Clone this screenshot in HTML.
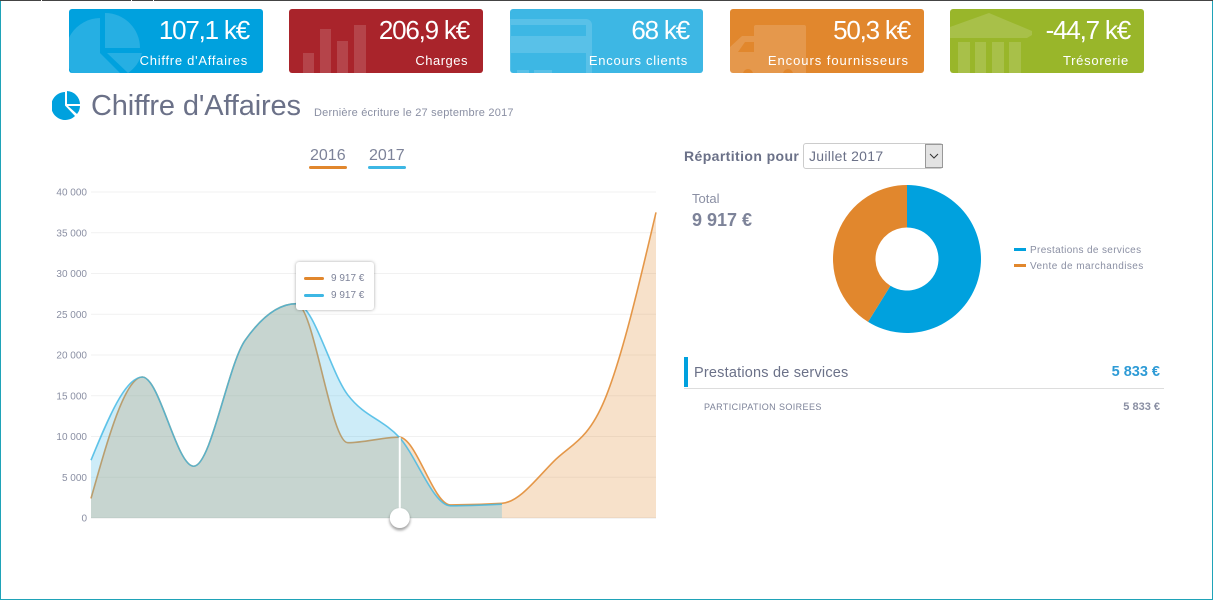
<!DOCTYPE html>
<html lang="fr">
<head>
<meta charset="utf-8">
<title>Chiffre d'Affaires</title>
<style>
html,body{margin:0;padding:0;background:#fff}
body{width:1213px;height:600px;overflow:hidden;position:relative;font-family:"Liberation Sans",sans-serif;color:#6b7188}
.abs{position:absolute;white-space:nowrap}
.card{position:absolute;top:9px;height:64px;width:194px;border-radius:3px;overflow:hidden;color:#fff}
.card svg{position:absolute;left:0;top:0}
.val{position:absolute;right:14px;top:4px;font-size:26px;line-height:34px;letter-spacing:-1.2px;white-space:nowrap}
.lab{position:absolute;right:15px;top:44px;font-size:13px;line-height:16px;letter-spacing:.73px;white-space:nowrap}
</style>
</head>
<body>
<div class="abs" style="left:0;top:0;width:1213px;height:1px;background:#444"></div>
<div class="abs" style="left:41px;top:0;width:1px;height:1px;background:#fff"></div>
<div class="abs" style="left:131px;top:0;width:1px;height:1px;background:#fff"></div>
<div class="abs" style="left:153px;top:0;width:1px;height:1px;background:#fff"></div>
<div class="abs" style="left:0;top:1px;width:1px;height:599px;background:#1fa3b8"></div>
<div class="abs" style="left:1212px;top:1px;width:1px;height:599px;background:#1fa3b8"></div>
<div class="abs" style="left:0;top:599px;width:1213px;height:1px;background:#1fa3b8"></div>

<div class="card" style="left:69px;background:#00a1de">
<svg width="194" height="64"><g fill="#fff" fill-opacity=".15"><path d="M31 44V9A35 35 0 1 0 56 69Z"/><path d="M36 4A35 35 0 0 1 71 39H36Z"/><path d="M38 44H73A35 35 0 0 1 59 64Z"/></g></svg>
<div class="val">107,1 k€</div>
<div class="lab">Chiffre d'Affaires</div>
</div>
<div class="card" style="left:289px;background:#a9242b">
<svg width="194" height="64"><g fill="#fff" fill-opacity=".15"><rect x="14" y="44" width="11" height="20"/><rect x="31" y="20" width="11" height="44"/><rect x="48" y="32" width="11" height="32"/><rect x="65" y="16" width="12" height="48"/></g></svg>
<div class="val">206,9 k€</div>
<div class="lab" style="letter-spacing:.5px">Charges</div>
</div>
<div class="card" style="left:510px;width:193px;background:#3db7e4">
<svg width="193" height="64"><path fill="#fff" fill-opacity=".15" fill-rule="evenodd" d="M0 10H76A6 6 0 0 1 82 16V64H0ZM1 16V27H76V16ZM1 44V64H76V44Z"/><g fill="#fff" fill-opacity=".15"><rect x="7" y="61" width="12" height="3"/><rect x="24" y="61" width="18" height="3"/></g></svg>
<div class="val">68 k€</div>
<div class="lab">Encours clients</div>
</div>
<div class="card" style="left:730px;background:#e1872d">
<svg width="194" height="64"><path fill="#fff" fill-opacity=".15" fill-rule="evenodd" d="M26 16H74A2 2 0 0 1 76 18V64H0V38L12 27H24V18A2 2 0 0 1 26 16ZM8 43H24V33H15Z"/><circle cx="18" cy="65" r="5" fill="#e1872d"/><circle cx="58" cy="65" r="5" fill="#e1872d"/></svg>
<div class="val">50,3 k€</div>
<div class="lab" style="letter-spacing:.95px">Encours fournisseurs</div>
</div>
<div class="card" style="left:950px;background:#99b62a">
<svg width="194" height="64"><g fill="#fff" fill-opacity=".15"><path d="M0 18L39 4L82 22V26L77 29H0Z"/><rect x="8" y="33" width="12" height="31"/><rect x="25" y="33" width="11" height="31"/><rect x="42" y="33" width="12" height="31"/><rect x="59" y="33" width="12" height="31"/></g></svg>
<div class="val">-44,7 k€</div>
<div class="lab">Trésorerie</div>
</div>

<svg class="abs" style="left:52px;top:90px" width="29" height="30"><path fill="#00a1de" d="M13 2V15.5L23 26A14 14 0 1 1 13 2Z"/><path fill="#00a1de" d="M15 1A13.500 13.500 0 0 1 28 14H15Z"/><path fill="#00a1de" d="M16 16H28A13 13 0 0 1 25 24Z"/></svg>
<div class="abs" style="left:91px;top:88px;font-size:29px;line-height:36px;letter-spacing:-.14px;color:#6b7188">Chiffre d'Affaires</div>
<div class="abs" style="left:314px;top:106px;font-size:11px;line-height:14px;letter-spacing:.22px;color:#8a8fa3">Dernière écriture le 27 septembre 2017</div>

<div class="abs" style="left:310px;top:147px;font-size:16px;line-height:18px;color:#7d8399">2016</div>
<div class="abs" style="left:309px;top:166px;width:38px;height:3px;border-radius:2px;background:#e1872d"></div>
<div class="abs" style="left:369px;top:147px;font-size:16px;line-height:18px;color:#7d8399">2017</div>
<div class="abs" style="left:368px;top:166px;width:38px;height:3px;border-radius:2px;background:#3db7e4"></div>

<svg id="chart" class="abs" style="left:0;top:0" width="700" height="560"></svg>

<div class="abs" style="left:296px;top:262px;width:78px;height:48px;background:#fff;border-radius:3px;box-shadow:0 0 3px rgba(0,0,0,.35)">
<div class="abs" style="left:8px;top:15px;width:20px;height:3px;border-radius:2px;background:#e1872d"></div>
<div class="abs" style="left:35px;top:10px;font-size:10px;line-height:13px;color:#7d8399">9 917 €</div>
<div class="abs" style="left:8px;top:32px;width:20px;height:3px;border-radius:2px;background:#3db7e4"></div>
<div class="abs" style="left:35px;top:27px;font-size:10px;line-height:13px;color:#7d8399">9 917 €</div>
</div>

<div class="abs" style="left:684px;top:148px;font-size:14px;line-height:17px;letter-spacing:.4px;font-weight:bold;color:#6b7188">Répartition pour</div>
<div class="abs" style="left:803px;top:143px;width:138px;height:24px;border:1px solid #ccc;border-radius:3px;background:#fff">
<div class="abs" style="left:5px;top:3px;font-size:14px;line-height:18px;letter-spacing:.3px;color:#6b7188">Juillet 2017</div>
<div class="abs" style="left:121px;top:0;width:16px;height:22px;background:#e3e3e3;border:1px solid #999">
<svg width="16" height="22"><path d="M4 9L8 13L12 9" fill="none" stroke="#333" stroke-width="1"/></svg></div>
</div>

<div class="abs" style="left:692px;top:191px;font-size:13px;line-height:16px;color:#8a8fa3">Total</div>
<div class="abs" style="left:692px;top:209px;font-size:18px;line-height:22px;font-weight:bold;color:#7d8399">9 917 €</div>

<svg id="donut" class="abs" style="left:820px;top:175px" width="175" height="170"></svg>

<div class="abs" style="left:1014px;top:248px;width:12px;height:3px;background:#00a1de"></div>
<div class="abs" style="left:1030px;top:244px;font-size:10px;line-height:13px;letter-spacing:.35px;color:#8a8fa3">Prestations de services</div>
<div class="abs" style="left:1014px;top:264px;width:12px;height:3px;background:#e1872d"></div>
<div class="abs" style="left:1030px;top:260px;font-size:10px;line-height:13px;letter-spacing:.44px;color:#8a8fa3">Vente de marchandises</div>

<div class="abs" style="left:684px;top:357px;width:4px;height:30px;background:#00a1de"></div>
<div class="abs" style="left:694px;top:364px;font-size:14.500px;line-height:18px;letter-spacing:.2px;color:#6b7188">Prestations de services</div>
<div class="abs" style="right:53px;top:363px;font-size:14.500px;line-height:18px;font-weight:bold;color:#2e9bd6">5 833 €</div>
<div class="abs" style="left:684px;top:388px;width:480px;height:1px;background:#ddd"></div>
<div class="abs" style="left:704px;top:401px;font-size:9px;line-height:13px;letter-spacing:.4px;color:#7d8399">PARTICIPATION SOIREES</div>
<div class="abs" style="right:53px;top:400px;font-size:11px;line-height:14px;font-weight:bold;color:#8a8fa3">5 833 €</div>

<script>
const months = ['Jan','Fév','Mar','Avr','Mai','Juin','Juil','Août','Sep','Oct','Nov','Déc'];
const values2016 = [2400,17300,6350,21800,26300,9240,9917,1600,1800,6900,14500,37500];
const values2017 = [7100,17300,6350,21800,26300,15100,9917,1500,1700,null,null,null];
const yTicks = [0,5000,10000,15000,20000,25000,30000,35000,40000];
const yTickLabels = ['0','5 000','10 000','15 000','20 000','25 000','30 000','35 000','40 000'];
const cursorIndex = 6;
const donutLabels = ['Prestations de services','Vente de marchandises'];
const donutValues = [5833,4084];

const NS = 'http://www.w3.org/2000/svg';
const plot = {left:91, right:656, top:192, bottom:518, max:40000};
const xScale = i => plot.left + i * (plot.right - plot.left) / (months.length - 1);
const yScale = v => plot.bottom - v * (plot.bottom - plot.top) / plot.max;

function make(parent, tag, attrs) {
  const el = document.createElementNS(NS, tag);
  for (const k in attrs) el.setAttribute(k, attrs[k]);
  parent.appendChild(el);
  return el;
}
function sign(v){ return v < 0 ? -1 : 1; }
function monotonePath(pts) {
  const n = pts.length;
  const d = [], t = new Array(n);
  for (let i = 0; i < n - 1; i++) d.push((pts[i+1][1] - pts[i][1]) / (pts[i+1][0] - pts[i][0]));
  for (let i = 1; i < n - 1; i++) {
    const h0 = pts[i][0] - pts[i-1][0], h1 = pts[i+1][0] - pts[i][0];
    const p = (d[i-1] * h1 + d[i] * h0) / (h0 + h1);
    t[i] = (sign(d[i-1]) + sign(d[i])) * Math.min(Math.abs(d[i-1]), Math.abs(d[i]), 0.5 * Math.abs(p)) || 0;
  }
  t[0] = (3 * d[0] - t[1]) / 2;
  t[n-1] = (3 * d[n-2] - t[n-2]) / 2;
  let s = 'M' + pts[0][0] + ' ' + pts[0][1];
  for (let i = 0; i < n - 1; i++) {
    const dx = (pts[i+1][0] - pts[i][0]) / 3;
    s += 'C' + (pts[i][0] + dx) + ' ' + (pts[i][1] + t[i] * dx) + ' ' + (pts[i+1][0] - dx) + ' ' + (pts[i+1][1] - t[i+1] * dx) + ' ' + pts[i+1][0] + ' ' + pts[i+1][1];
  }
  return s;
}
function points(values) {
  const out = [];
  values.forEach((v, i) => { if (v !== null) out.push([xScale(i), yScale(v)]); });
  return out;
}

const svg = document.getElementById('chart');
yTicks.forEach((tick, i) => {
  const line = make(svg, 'line', {x1:plot.left, x2:plot.right, y1:yScale(tick), y2:yScale(tick), stroke: tick === 0 ? '#e8e8e8' : '#f1f1f1', 'stroke-width':1});
  
  
  const label = make(svg, 'text', {x:87, y:yScale(tick) + 3.5, 'text-anchor':'end', 'font-size':10, fill:'#8a8fa3', 'font-family':'"Liberation Sans",sans-serif'});
  label.textContent = yTickLabels[i];
  
  
});

function drawSeries(values, color, fillOpacity, lineOpacity, name) {
  const pts = points(values);
  const curve = monotonePath(pts);
  const area = make(svg, 'path', {d: curve + 'L' + pts[pts.length-1][0] + ' ' + plot.bottom + 'L' + pts[0][0] + ' ' + plot.bottom + 'Z', fill:color, 'fill-opacity':fillOpacity});
  
  
  const line = make(svg, 'path', {d:curve, fill:'none', stroke:color, 'stroke-width':1.6, 'stroke-opacity':lineOpacity});
  
  
}
drawSeries(values2016, '#e1872d', .25, .85, 'series-2016');
drawSeries(values2017, '#3db7e4', .26, .8, 'series-2017');

const cx = xScale(cursorIndex) + 0.6;
const cursorLine = make(svg, 'line', {x1:cx, x2:cx, y1:yScale(values2016[cursorIndex]), y2:plot.bottom, stroke:'#fff', 'stroke-width':2});


const shadow = make(svg, 'circle', {cx:cx, cy:plot.bottom + 2, r:10.5, fill:'#000', 'fill-opacity':.35, style:'filter:blur(1.2px)'});


const handle = make(svg, 'circle', {cx:cx, cy:plot.bottom, r:10, fill:'#fff'});



const donut = document.getElementById('donut');
const dc = {x:87, y:84, r:74, ri:31.5};
const donutColors = ['#00a1de', '#e1872d'];
const donutTotal = donutValues.reduce((a, b) => a + b, 0);
let startAngle = 0;
donutValues.forEach((v, i) => {
  const endAngle = startAngle + v / donutTotal * 2 * Math.PI;
  const px = (r, a) => (dc.x + r * Math.sin(a)) + ' ' + (dc.y - r * Math.cos(a));
  const large = endAngle - startAngle > Math.PI ? 1 : 0;
  const slice = make(donut, 'path', {
    d:'M' + px(dc.r, startAngle) + 'A' + dc.r + ' ' + dc.r + ' 0 ' + large + ' 1 ' + px(dc.r, endAngle) +
      'L' + px(dc.ri, endAngle) + 'A' + dc.ri + ' ' + dc.ri + ' 0 ' + large + ' 0 ' + px(dc.ri, startAngle) + 'Z',
    fill:donutColors[i]
  });
  
  
  const title = make(slice, 'title', {});
  title.textContent = donutLabels[i];
  startAngle = endAngle;
});
</script>
</body>
</html>
